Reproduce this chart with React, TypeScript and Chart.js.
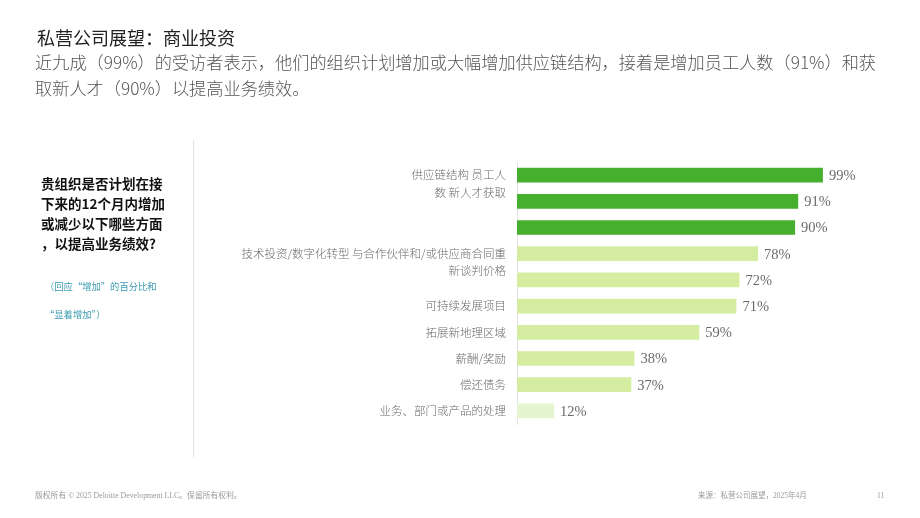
import React, { useEffect, useRef } from "react";
import { Chart, registerables } from "chart.js";

Chart.register(...registerables);

const categories = [
  "供应链结构",
  "员工人数",
  "新人才获取",
  "技术投资/数字化转型",
  "与合作伙伴和/或供应商合同重新谈判价格",
  "可持续发展项目",
  "拓展新地理区域",
  "薪酬/奖励",
  "偿还债务",
  "业务、部门或产品的处理",
];

const tickLabels: (string | string[])[] = [
  ["", "供应链结构 员工人", "数 新人才获取"],
  "",
  "",
  ["", "技术投资/数字化转型 与合作伙伴和/或供应商合同重", "新谈判价格"],
  "",
  "可持续发展项目",
  "拓展新地理区域",
  "薪酬/奖励",
  "偿还债务",
  "业务、部门或产品的处理",
];

const values = [99, 91, 90, 78, 72, 71, 59, 38, 37, 12];

const barColors = [
  "#46AF2E",
  "#46AF2E",
  "#46AF2E",
  "#D5EDA0",
  "#D5EDA0",
  "#D5EDA0",
  "#D5EDA0",
  "#D5EDA0",
  "#D5EDA0",
  "#E5F5D0",
];

const CJK = '"Noto Sans CJK SC", "Noto Sans", sans-serif';

const valueLabelPlugin = {
  id: "valueLabels",
  afterDatasetsDraw(chart: any) {
    const ctx = chart.ctx;
    const meta = chart.getDatasetMeta(0);
    ctx.save();
    ctx.font = '14.5px "Liberation Serif", serif';
    ctx.fillStyle = "#6a6a6a";
    ctx.textAlign = "left";
    ctx.textBaseline = "middle";
    meta.data.forEach((bar: any, i: number) => {
      ctx.fillText(values[i] + "%", bar.x + 6, bar.y + 1);
    });
    ctx.restore();
  },
};

export default function App() {
  const ref = useRef<HTMLCanvasElement>(null);

  useEffect(() => {
    document.body.style.margin = "0";
    const canvas = ref.current!;
    const chart = new Chart(canvas, {
      type: "bar",
      data: {
        labels: tickLabels as any,
        datasets: [
          {
            data: values,
            backgroundColor: barColors,
            borderWidth: 0,
            barPercentage: 0.56,
            categoryPercentage: 1,
          },
        ],
      },
      options: {
        indexAxis: "y",
        responsive: false,
        animation: false,
        events: [],
        layout: { padding: { left: 0, right: 94, top: 162, bottom: 94 } },
        plugins: {
          legend: { display: false },
          tooltip: { enabled: false },
          title: { display: false },
        },
        scales: {
          x: {
            display: false,
            min: 0,
            max: 100,
          },
          y: {
            afterFit: (scale: any) => {
              scale.width = 517;
            },
            grid: {
              display: true,
              drawOnChartArea: false,
              drawTicks: false,
            },
            border: { display: true, color: "#e2e2e2", width: 1 },
            ticks: {
              padding: 11,
              color: "#6a6a6a",
              font: { family: CJK, size: 11.5, weight: 300, lineHeight: 1.5 },
              autoSkip: false,
            },
          },
        },
      },
      plugins: [valueLabelPlugin],
    });
    return () => chart.destroy();
  }, []);

  const abs = (s: React.CSSProperties): React.CSSProperties => ({
    position: "absolute",
    whiteSpace: "nowrap",
    ...s,
  });

  return (
    <div
      style={{
        position: "fixed",
        left: 0,
        top: 0,
        width: 920,
        height: 518,
        background: "#ffffff",
        overflow: "hidden",
        fontFamily: CJK,
      }}
    >
      <canvas
        ref={ref}
        width={920}
        height={518}
        style={{ position: "absolute", left: 0, top: 0, width: 920, height: 518 }}
      />
      <div style={abs({ left: 37, top: 25, fontSize: 18, lineHeight: "24px", color: "#222222", fontWeight: 400 })}>
        私营公司展望：商业投资
      </div>
      <div style={abs({ left: 35, top: 49, fontSize: 17.2, lineHeight: "26px", color: "#555555", fontWeight: 300 })}>
        近九成（99%）的受访者表示，他们的组织计划增加或大幅增加供应链结构，接着是增加员工人数（91%）和获
        <br />
        取新人才（90%）以提高业务绩效。
      </div>
      <div style={abs({ left: 193, top: 140, width: 1, height: 317, background: "#e0e0e0" })} />
      <div
        style={abs({
          left: 41,
          top: 173,
          fontSize: 13.5,
          lineHeight: "20px",
          fontWeight: 700,
          color: "#111111",
        })}
      >
        贵组织是否计划在接
        <br />
        下来的12个月内增加
        <br />
        或减少以下哪些方面
        <br />
        ，以提高业务绩效?
      </div>
      <div style={abs({ left: 45, top: 279, fontSize: 9.3, lineHeight: "14px", color: "#3a9bb0" })}>
        （回应“增加”的百分比和
      </div>
      <div style={abs({ left: 45, top: 307, fontSize: 9.3, lineHeight: "14px", color: "#3a9bb0" })}>
        “显着增加”）
      </div>
      <div
        style={abs({
          left: 35,
          top: 491,
          fontSize: 7.8,
          lineHeight: "10px",
          color: "#9a9a9a",
          fontFamily: '"Liberation Serif", "Noto Sans CJK SC", serif',
        })}
      >
        版权所有 © 2025 Deloitte Development LLC。保留所有权利。
      </div>
      <div
        style={abs({
          left: 698,
          top: 491,
          fontSize: 7.5,
          lineHeight: "10px",
          color: "#9a9a9a",
          fontFamily: '"Liberation Serif", "Noto Sans CJK SC", serif',
        })}
      >
        来源：私营公司展望，2025年4月
      </div>
      <div
        style={abs({
          left: 877,
          top: 491,
          fontSize: 7.5,
          lineHeight: "10px",
          color: "#9a9a9a",
          fontFamily: '"Liberation Serif", serif',
        })}
      >
        11
      </div>
    </div>
  );
}
